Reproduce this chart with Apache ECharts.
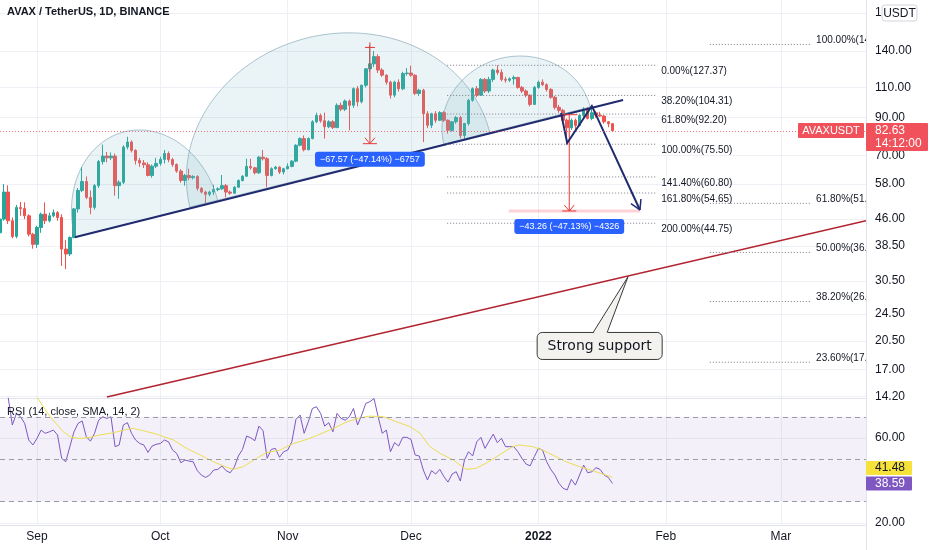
<!DOCTYPE html>
<html>
<head>
<meta charset="utf-8">
<script src="https://cdn.jsdelivr.net/npm/echarts@6.0.0/dist/echarts.min.js"></script>
<style>
html,body{margin:0;padding:0;background:#ffffff;}
#chart{width:932px;height:550px;}
</style>
</head>
<body>
<div id="chart"></div>
<script>
// ---------------- data (daily candles, day 0 = 2021-08-23) ----------------
const firstDay = '2021-08-23';
const open = [
42.0,46.0,55.0,45.5,41.0,49.7,49.3,47.0,41.6,38.9,
43.5,47.5,45.5,47.0,48.0,46.5,37.7,36.5,40.7,49.2,
55.6,59.0,53.1,49.7,57.4,67.3,69.8,69.0,69.8,57.4,
58.7,74.1,76.6,72.5,67.8,66.7,65.9,61.4,65.3,66.5,
68.3,71.0,68.2,66.0,63.2,59.4,61.4,60.5,61.0,56.4,
55.0,54.2,55.0,55.9,56.2,57.4,55.0,54.6,56.8,59.4,
61.1,65.2,64.6,62.5,69.3,68.6,61.4,64.2,64.9,62.8,
64.2,65.2,67.5,75.0,78.4,72.8,78.4,87.6,91.4,88.2,
84.8,87.6,84.3,97.7,95.2,100.5,97.7,109.1,100.0,111.6,
124.4,128.6,134.9,123.4,119.3,113.9,104.5,113.9,109.0,120.6,
121.0,119.3,105.7,108.0,92.4,85.6,92.4,88.5,93.1,88.5,
82.8,87.6,90.1,80.0,86.6,101.0,109.1,104.5,116.0,107.4,
116.0,123.4,121.5,116.0,115.4,116.5,117.5,110.0,107.4,104.5,
98.3,110.0,113.9,112.0,108.5,103.0,96.4,94.5,88.5,84.2,
88.5,85.5,91.4,95.4,89.6,93.0,91.5,91.0,87.6,86.5];
const close = [
46.0,55.0,45.5,41.0,49.7,49.3,47.0,41.6,38.9,43.5,
47.5,45.5,47.0,48.0,46.5,37.7,36.5,40.7,49.2,55.6,
59.0,53.1,49.7,57.4,67.3,69.8,69.0,69.8,57.4,58.7,
74.1,76.6,72.5,67.8,66.7,65.9,61.4,65.3,66.5,68.3,
71.0,68.2,66.0,63.2,59.4,61.4,60.5,61.0,56.4,55.0,
54.2,55.0,55.9,56.2,57.4,55.0,54.6,56.8,59.4,61.1,
65.2,64.6,62.5,69.3,68.6,61.4,64.2,64.9,62.8,64.2,
65.2,67.5,75.0,78.4,72.8,78.4,87.6,91.4,88.2,84.8,
87.6,84.3,97.7,95.2,100.5,97.7,109.1,100.0,111.6,124.4,
128.6,134.9,123.4,119.3,113.9,104.5,113.9,109.0,120.6,121.0,
119.3,105.7,108.0,92.4,85.6,92.4,88.5,93.1,88.5,82.8,
87.6,90.1,80.0,86.6,101.0,109.1,104.5,116.0,107.4,116.0,
123.4,121.5,116.0,115.4,116.5,117.5,110.0,107.4,104.5,98.3,
110.0,113.9,112.0,108.5,103.0,96.4,94.5,88.5,84.2,88.5,
85.5,91.4,95.4,89.6,93.0,91.5,91.0,87.6,86.5,82.63];
const high = [
50.0,58.0,57.5,46.5,50.5,51.5,51.4,47.5,42.0,44.0,
48.0,51.4,48.0,49.0,48.5,47.5,40.0,41.0,49.5,56.5,
64.9,61.0,55.6,58.0,68.0,75.3,71.7,71.5,71.0,59.5,
75.0,79.3,77.5,73.0,69.0,68.0,67.0,66.0,69.0,69.5,
72.7,72.0,69.0,66.5,64.0,62.0,64.2,61.5,61.5,56.8,
55.5,55.5,57.7,56.8,61.6,58.0,55.6,57.2,59.8,61.5,
68.6,68.6,65.0,69.8,72.7,69.3,64.8,65.4,65.2,64.6,
66.5,68.0,75.5,79.0,80.0,79.0,88.5,93.0,92.5,93.1,
88.5,88.5,99.0,99.5,101.5,101.5,110.0,111.0,112.0,125.0,
145.7,140.0,137.0,125.0,120.0,115.0,115.0,116.0,122.0,125.0,
127.0,120.0,109.0,109.0,94.0,93.0,94.0,94.0,94.0,89.0,
88.0,91.0,91.0,87.0,102.0,110.0,111.0,117.0,117.0,118.0,
124.5,127.37,124.0,118.0,117.5,119.0,118.0,111.0,108.5,105.0,
111.0,115.0,116.0,113.0,109.5,104.0,98.0,95.5,89.5,89.5,
89.5,92.0,96.5,96.4,97.0,94.0,93.6,91.5,88.0,87.0];
const low = [
41.5,45.5,44.5,40.5,40.5,47.0,46.0,41.0,37.8,38.0,
42.0,44.5,45.0,46.5,45.5,33.7,33.0,36.0,40.5,48.0,
55.0,52.5,47.5,49.0,56.5,66.0,67.0,68.0,53.7,52.6,
58.0,73.0,71.5,66.0,65.0,64.5,61.0,60.5,64.5,65.5,
66.5,67.0,65.0,62.5,58.5,57.4,59.5,59.8,55.5,54.5,
51.0,53.5,54.0,55.3,55.8,53.1,54.0,54.3,56.5,59.0,
60.8,63.8,61.8,62.0,67.8,56.8,61.0,63.8,62.0,61.8,
63.9,64.8,67.0,74.5,72.0,72.5,78.0,86.8,87.0,78.4,
84.0,83.5,84.0,94.0,94.0,82.8,96.0,97.0,99.0,110.0,
122.0,126.0,121.0,118.0,112.0,102.2,103.0,107.0,108.0,119.0,
118.0,104.5,104.0,76.6,84.0,84.0,87.0,88.0,87.5,81.0,
82.0,86.5,78.5,77.5,85.5,100.0,103.0,104.0,106.0,106.0,
114.0,119.5,114.5,113.5,114.0,112.0,109.0,106.0,103.0,97.0,
98.0,109.0,111.0,107.0,102.0,95.0,93.0,87.0,75.5,83.0,
83.0,85.0,90.0,89.0,88.5,90.0,90.5,86.5,84.5,82.0];

// RSI(14) values, first value on day index rsiStart
const rsiStart = 2;
const rsiValues = [
79,66.1,71.6,70.0,66.9,59.0,56.7,59.8,63.7,62.2,
62.9,63.7,61.4,50.4,48.8,55.9,62.9,66.9,68.0,60.6,
58.5,62.2,68.4,70.0,69.2,70.0,55.9,56.7,66.1,67.2,
62.2,59.0,57.4,56.7,53.2,56.2,57.0,57.4,59.0,58.2,
54.3,52.7,48.3,49.6,49.1,48.8,44.6,42.5,41.4,42.5,
44.9,45.2,46.8,44.6,43.6,46.2,51.5,54.6,60.9,60.1,
58.7,65.6,63.4,50.4,54.6,55.1,50.9,53.5,54.3,58.2,
68.7,70.8,62.2,67.6,73.9,74.7,71.6,65.6,67.2,62.9,
71.6,69.2,68.4,70.0,73.9,66.1,70.8,76.3,77.1,78.6,
70.0,62.2,63.7,53.5,57.8,56.2,60.3,60.3,59.3,52.0,
51.5,44.9,40.2,44.6,43.0,45.2,41.8,39.2,43.0,44.1,
39.7,49.6,53.5,51.5,58.2,60.3,55.1,58.5,61.8,57.8,
59.8,55.9,55.9,55.9,53.5,50.4,47.7,46.9,51.2,55.1,
54.3,48.8,45.2,42.5,38.6,36.3,35.5,40.5,37.8,42.5,
47.2,43.6,44.1,46.0,45.2,42.5,41.4,38.59];
// RSI-based SMA, read as [day, value]
const rsiMaPoints = [
[8.9,79.4],[12.2,70.0],[15.4,62.9],[17.4,60.3],[19.5,59.8],[21.9,60.3],[24.3,61.4],[27.6,62.5],
[30.8,64.0],[32.4,64.5],[34.9,63.4],[38.1,61.8],[42.2,59.0],[45.4,55.1],[48.7,52.0],[51.9,48.8],
[55.1,46.2],[56.8,45.2],[59.2,46.5],[62.4,50.4],[64.9,53.1],[68.1,54.3],[71.4,57.4],[74.6,59.3],
[77.9,61.8],[81.1,64.5],[84.4,67.6],[87.6,69.5],[90.0,70.3],[93.3,70.0],[96.5,67.6],[99.8,65.3],
[102.2,62.2],[104.6,55.9],[107.1,52.7],[110.3,49.6],[113.4,45.2],[115.8,45.7],[118.2,48.0],
[121.5,52.0],[124.7,55.9],[126.4,56.7],[129.6,55.9],[132.0,54.3],[135.3,51.2],[137.7,48.8],
[141.0,46.5],[144.2,44.6],[146.6,43.0],[149.0,41.48]];

// axis ticks
const priceTicks = [180, 140, 110, 90, 70, 58, 46, 38.5, 30.5, 24.5, 20.5, 17, 14.2];
const rsiTicks = [60, 20];
const monthTicks = [9, 39, 70, 100, 131, 162, 190];
const monthLabels = ['Sep', 'Oct', 'Nov', 'Dec', '2022', 'Feb', 'Mar'];

// last values
const symbolName = 'AVAXUSDT';
const lastPrice = 82.63;
const countdown = '14:12:00';
const rsiLast = 38.59;
const rsiMaLast = 41.48;

// drawings, points as [day, price]
const leftShoulder = [[18.2, 40.8], [30.3, 82.0], [53.0, 51.85]];
const headArc = [[46.2, 49.8], [74.7, 152.6], [119.2, 81.3]];
const rightShoulder = [[108.0, 75.6], [121.7, 133.2], [143.6, 96.6]];
const neckline = [[18.2, 40.8], [151.6, 101.2]];
const projectionPath = [[136.5, 92.85], [138.0, 76.1], [144.0, 97.3], [155.7, 48.85]];
const supportLine = [[26.0, 14.15], [210.7, 45.5]];
const measureDays = [90.0, 138.5];
const measureFrom = [143.35, 91.79];
const measureTo = [75.78, 48.53];
const targetBand = [[123.8, 48.53], [155.7, 48.53]];
const fibALevels = [0, 38.2, 61.8, 100, 141.4, 161.8, 200];
const fibAPrices = [127.37, 104.31, 92.20, 75.50, 60.80, 54.65, 44.75];
const fibADays = [108.8, 159.9];
const fibBLevels = [100, 61.8, 50, 38.2, 23.6];
const fibBPrices = [146.22, 51.05, 36.88, 26.64, 17.82];
const fibBDays = [172.7, 197.1];
const calloutTip = [152.8, 31.4];
const calloutAnchor = [145.9, 19.85];
const calloutText = 'Strong support';

// ---------------- chart ----------------
const L = Math.log;
const FONT = '"Liberation Sans", Arial, sans-serif';
const UP = '#26a69a', DOWN = '#ef5350', NAVY = '#1f2b6e', MRED = '#e53935';
const xMin = 0, xMax = 210.7;

const candleData = open.map((o, i) => [i, L(o), L(close[i]), L(low[i]), L(high[i])]);
const rsiData = rsiValues.map((v, i) => [rsiStart + i, v]);

function pt(api, d) { return api.coord([d[0], L(d[1])]); }
function seg(a, b, style) { return {type: 'line', shape: {x1: a[0], y1: a[1], x2: b[0], y2: b[1]}, style: style}; }

function arcPoints(api, arc) {
  const S = pt(api, arc[0]), A = pt(api, arc[1]), E = pt(api, arc[2]);
  const mx = (S[0] + E[0]) / 2, my = (S[1] + E[1]) / 2;
  let ux = E[0] - S[0], uy = E[1] - S[1];
  const len = Math.hypot(ux, uy); ux /= len; uy /= len;
  const ra = len / 2;
  let nx = -uy, ny = ux;
  let b = (A[0] - mx) * nx + (A[1] - my) * ny;
  if (b < 0) { nx = -nx; ny = -ny; b = -b; }
  const pts = [];
  for (let i = 0; i <= 90; i++) {
    const t = Math.PI * i / 90;
    pts.push([mx + ux * ra * Math.cos(t) + nx * b * Math.sin(t), my + uy * ra * Math.cos(t) + ny * b * Math.sin(t)]);
  }
  return pts;
}

function arrowHead(from, tip, len, style) {
  const dx = tip[0] - from[0], dy = tip[1] - from[1];
  const d = Math.hypot(dx, dy);
  const bx = -dx / d, by = -dy / d;
  const out = [];
  [Math.PI / 6, -Math.PI / 6].forEach(a => {
    const rx = bx * Math.cos(a) - by * Math.sin(a), ry = bx * Math.sin(a) + by * Math.cos(a);
    out.push(seg(tip, [tip[0] + rx * len, tip[1] + ry * len], style));
  });
  return out;
}

function renderPriceNotes(params, api) {
  const c = [];
  [leftShoulder, headArc, rightShoulder].forEach(arc => {
    c.push({type: 'polygon', shape: {points: arcPoints(api, arc)},
      style: {fill: 'rgba(125,178,198,0.16)', stroke: 'rgba(110,150,170,0.55)', lineWidth: 1}});
  });
  // support line
  c.push(seg(pt(api, supportLine[0]), pt(api, supportLine[1]), {stroke: '#b2222f', lineWidth: 1.5}));
  // neckline
  c.push(seg(pt(api, neckline[0]), pt(api, neckline[1]), {stroke: NAVY, lineWidth: 2}));
  // fib A
  const dotted = {stroke: '#787b86', lineWidth: 1, lineDash: [1, 2]};
  fibALevels.forEach((lv, i) => {
    const a = pt(api, [fibADays[0], fibAPrices[i]]), b = pt(api, [fibADays[1], fibAPrices[i]]);
    c.push(seg(a, b, dotted));
    c.push({type: 'text', x: b[0] + 4, y: b[1] + 1, style: {text: lv.toFixed(2) + '%(' + fibAPrices[i].toFixed(2) + ')',
      fill: '#131722', font: '10px ' + FONT, align: 'left', verticalAlign: 'top'}});
  });
  // fib B
  fibBLevels.forEach((lv, i) => {
    const a = pt(api, [fibBDays[0], fibBPrices[i]]), b = pt(api, [fibBDays[1], fibBPrices[i]]);
    c.push(seg(a, b, dotted));
    c.push({type: 'text', x: b[0] + 6, y: b[1] + 1, style: {text: lv.toFixed(2) + '%(' + fibBPrices[i].toFixed(2) + ')',
      fill: '#131722', font: '10px ' + FONT, align: 'left', verticalAlign: 'bottom'}});
  });
  // target band
  c.push(seg(pt(api, targetBand[0]), pt(api, targetBand[1]), {stroke: 'rgba(242,54,69,0.22)', lineWidth: 3}));
  // measures
  const rs = {stroke: MRED, lineWidth: 1};
  measureDays.forEach((d, i) => {
    const t = pt(api, [d, measureFrom[i]]), b = pt(api, [d, measureTo[i]]);
    c.push(seg(t, b, rs));
    c.push(seg([b[0] - 7, b[1]], [b[0] + 7, b[1]], rs));
    c.push(seg([b[0] - 5, b[1] - 6], b, rs));
    c.push(seg([b[0] + 5, b[1] - 6], b, rs));
    if (i === 0) {
      c.push(seg([t[0] - 5, t[1]], [t[0] + 5, t[1]], rs));
      c.push(seg([t[0], t[1] - 5], t, rs));
    } else {
      c.push(seg([t[0] - 8, t[1]], [t[0] + 8, t[1]], rs));
    }
    const diff = measureTo[i] - measureFrom[i];
    const pct = (measureTo[i] / measureFrom[i] - 1) * 100;
    const txt = (diff.toFixed(2) + ' (' + pct.toFixed(2) + '%) ' + Math.round(diff * 100)).replace(/-/g, '\u2212');
    c.push({type: 'text', x: b[0], y: b[1] + 15.5, z2: 10, style: {text: txt, fill: '#ffffff', font: '9px ' + FONT,
      align: 'center', verticalAlign: 'middle', backgroundColor: '#2962ff', padding: [3, 5], borderRadius: 3}});
  });
  // projection path
  const pp = projectionPath.map(d => pt(api, d));
  c.push({type: 'polyline', shape: {points: pp}, style: {stroke: NAVY, lineWidth: 2, fill: 'none'}});
  arrowHead(pp[pp.length - 2], pp[pp.length - 1], 11, {stroke: NAVY, lineWidth: 1.5}).forEach(e => c.push(e));
  // callout
  const tip = pt(api, calloutTip), an = pt(api, calloutAnchor);
  const bw = 125, bh = 27, bx = an[0] - bw / 2, by = an[1] - bh / 2;
  c.push({type: 'rect', shape: {x: bx, y: by, width: bw, height: bh, r: 5}, style: {fill: '#f4f2ef', stroke: '#3a3a3a', lineWidth: 1}});
  c.push({type: 'polygon', shape: {points: [[an[0] - 6.5, by + 1], tip, [an[0] + 7.5, by + 1]]}, style: {fill: '#f4f2ef', stroke: 'none'}});
  c.push({type: 'polyline', shape: {points: [[an[0] - 6.5, by], tip, [an[0] + 7.5, by]]}, style: {stroke: '#3a3a3a', lineWidth: 1, fill: 'none'}});
  c.push({type: 'text', x: an[0], y: an[1], style: {text: calloutText, fill: '#131722', font: '14px "DejaVu Sans", Verdana, sans-serif',
    align: 'center', verticalAlign: 'middle'}});
  return {type: 'group', children: c};
}

function renderPriceTag(params, api) {
  const p = api.coord([xMax, L(lastPrice)]);
  const right = p[0], yc = p[1];
  const red = '#f0515a';
  return {type: 'group', children: [
    {type: 'rect', shape: {x: right - 68, y: yc - 7.5, width: 66, height: 15, r: 1}, style: {fill: red}},
    {type: 'text', x: right - 35, y: yc, style: {text: symbolName, fill: '#ffffff', font: '11px ' + FONT, align: 'center', verticalAlign: 'middle'}},
    {type: 'rect', shape: {x: right, y: yc - 7.5, width: 62, height: 28, r: 1}, style: {fill: red}},
    {type: 'text', x: right + 9, y: yc + 0.5, style: {text: lastPrice.toFixed(2), fill: '#ffffff', font: '12px ' + FONT, align: 'left', verticalAlign: 'middle'}},
    {type: 'text', x: right + 9, y: yc + 13.5, style: {text: countdown, fill: '#ffffff', font: '12px ' + FONT, align: 'left', verticalAlign: 'middle'}}
  ]};
}

function renderRsiTags(params, api) {
  const pP = api.coord([xMax, rsiLast]);
  const pY = api.coord([xMax, rsiMaLast]);
  const right = pP[0];
  const yP = pP[1];
  const yY = Math.min(pY[1], yP - 15.5);
  return {type: 'group', children: [
    {type: 'rect', shape: {x: right, y: yY - 7, width: 46, height: 14, r: 1}, style: {fill: '#f7e13b'}},
    {type: 'text', x: right + 9, y: yY, style: {text: rsiMaLast.toFixed(2), fill: '#131722', font: '12px ' + FONT, align: 'left', verticalAlign: 'middle'}},
    {type: 'rect', shape: {x: right, y: yP - 7, width: 46, height: 14, r: 1}, style: {fill: '#7e57c2'}},
    {type: 'text', x: right + 9, y: yP, style: {text: rsiLast.toFixed(2), fill: '#ffffff', font: '12px ' + FONT, align: 'left', verticalAlign: 'middle'}}
  ]};
}

const gridLine = {show: true, lineStyle: {color: '#eef0f5', width: 1}};
const axisLine = {show: true, onZero: false, lineStyle: {color: '#e0e3eb'}};

const option = {
  animation: false,
  backgroundColor: '#ffffff',
  textStyle: {fontFamily: FONT},
  title: {text: 'AVAX / TetherUS, 1D, BINANCE', left: 2, top: 1,
    textStyle: {fontSize: 11, fontWeight: 'bold', color: '#131722', fontFamily: FONT}},
  grid: [
    {left: 0, top: 0, width: 866, height: 398},
    {left: 0, top: 398, width: 866, height: 127}
  ],
  xAxis: [
    {type: 'value', gridIndex: 0, min: xMin, max: xMax, axisLine: axisLine,
     axisTick: {show: false, customValues: monthTicks}, axisLabel: {show: false}, splitLine: gridLine},
    {type: 'value', gridIndex: 1, min: xMin, max: xMax, axisLine: axisLine,
     axisTick: {show: false, customValues: monthTicks},
     axisLabel: {customValues: monthTicks, color: '#131722', fontSize: 12, margin: 6,
       formatter: v => { const s = monthLabels[monthTicks.indexOf(Math.round(v))] || ''; return s === '2022' ? '{b|2022}' : s; },
       rich: {b: {fontWeight: 'bold', fontSize: 12, color: '#131722'}}},
     splitLine: gridLine}
  ],
  yAxis: [
    {type: 'value', gridIndex: 0, position: 'right', min: L(14.064), max: L(196.24), axisLine: axisLine,
     axisTick: {show: false, customValues: priceTicks.map(L)},
     axisLabel: {customValues: priceTicks.map(L), formatter: v => Math.exp(v).toFixed(2), color: '#131722', fontSize: 12, margin: 9},
     splitLine: gridLine},
    {type: 'value', gridIndex: 1, position: 'right', min: 18.98, max: 78.84, axisLine: axisLine,
     axisTick: {show: false, customValues: rsiTicks},
     axisLabel: {customValues: rsiTicks, formatter: v => v.toFixed(2), color: '#131722', fontSize: 12, margin: 9},
     splitLine: gridLine}
  ],
  series: [
    {type: 'candlestick', name: symbolName, xAxisIndex: 0, yAxisIndex: 0, z: 2,
     dimensions: ['day', 'open', 'close', 'lowest', 'highest'],
     encode: {x: 'day', y: ['open', 'close', 'lowest', 'highest']},
     data: candleData, barWidth: 3, silent: true,
     itemStyle: {color: UP, color0: DOWN, borderColor: UP, borderColor0: DOWN, borderWidth: 1},
     markLine: {silent: true, symbol: 'none', label: {show: false},
       lineStyle: {color: '#f23645', type: [1, 2], width: 1, opacity: 0.7},
       data: [{yAxis: L(lastPrice)}]}},
    {type: 'custom', xAxisIndex: 0, yAxisIndex: 0, z: 4, clip: true, silent: true,
     data: [[0, 0]], renderItem: renderPriceNotes},
    {type: 'custom', xAxisIndex: 0, yAxisIndex: 0, z: 6, clip: false, silent: true,
     data: [[0, 0]], renderItem: renderPriceTag},
    {type: 'line', name: 'RSI', xAxisIndex: 1, yAxisIndex: 1, data: rsiData, symbol: 'none', silent: true,
     lineStyle: {color: '#7e57c2', width: 1}, z: 3,
     markArea: {silent: true, itemStyle: {color: 'rgba(126,87,194,0.09)'}, data: [[{yAxis: 70}, {yAxis: 30}]]},
     markLine: {silent: true, symbol: 'none', label: {show: false},
       lineStyle: {color: '#9a9ca5', type: [5, 4], width: 1},
       data: [{yAxis: 70}, {yAxis: 50}, {yAxis: 30}]}},
    {type: 'line', name: 'RSI MA', xAxisIndex: 1, yAxisIndex: 1, data: rsiMaPoints, symbol: 'none', silent: true,
     lineStyle: {color: '#ebdd55', width: 1}, z: 3},
    {type: 'custom', xAxisIndex: 1, yAxisIndex: 1, z: 6, clip: false, silent: true,
     data: [[0, 50]], renderItem: renderRsiTags}
  ],
  graphic: [
    {type: 'rect', z: 100, shape: {x: 882, y: 5, width: 35, height: 16, r: 3}, style: {fill: '#ffffff', stroke: '#d1d4dc', lineWidth: 1}},
    {type: 'text', z: 101, x: 899.5, y: 13.5, style: {text: 'USDT', fill: '#131722', font: '12px ' + FONT, align: 'center', verticalAlign: 'middle'}},
    {type: 'text', z: 101, x: 7, y: 412, style: {text: 'RSI (14, close, SMA, 14, 2)', fill: '#131722', font: '11px ' + FONT, align: 'left', verticalAlign: 'middle'}},
    {type: 'line', z: 100, shape: {x1: 866.5, y1: 525, x2: 866.5, y2: 550}, style: {stroke: '#e0e3eb', lineWidth: 1}}
  ]
};

const chart = echarts.init(document.getElementById('chart'), null, {renderer: 'canvas'});
chart.setOption(option);
</script>
</body>
</html>
